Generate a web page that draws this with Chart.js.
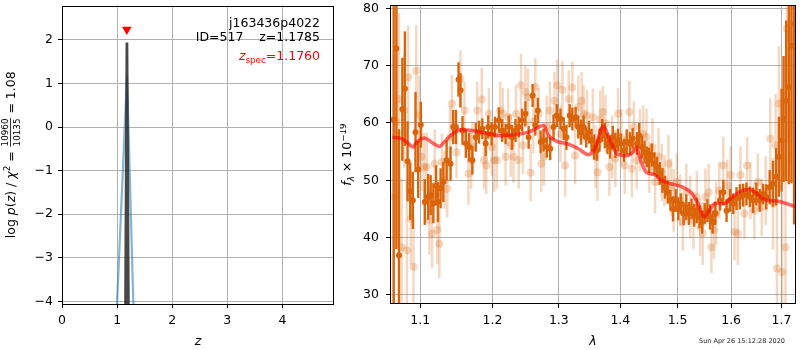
<!DOCTYPE html>
<html>
<head>
<meta charset="utf-8">
<script src="https://cdn.jsdelivr.net/npm/chart.js@4.4.0/dist/chart.umd.min.js"></script>
<style>
  html, body { margin: 0; padding: 0; background: #fff; }
  .panel { position: absolute; top: 0; height: 350px; }
</style>
</head>
<body>
<div class="panel" style="left:0;width:340px"><canvas id="pz"></canvas></div>
<div class="panel" style="left:340px;width:460px"><canvas id="spec"></canvas></div>
<script>
// ---- redshift probability panel ----
const zTicks = [0, 1, 2, 3, 4];
const logpTicks = [-4, -3, -2, -1, 0, 1, 2];
const zFit = [1.0, 1.1785, 1.36];          // fitted p(z), dark line
const logpFit = [-40, 1.94, -40];
const zPrior = [0.9, 1.18, 1.36];          // template p(z), blue line
const logpPrior = [-6.9, 1.18, -7.0];
const zSpec = 1.176;
const zSpecMark = 2.24;

// ---- spectrum panel ----
const lamTicks = [1.1, 1.2, 1.3, 1.4, 1.5, 1.6, 1.7];
const fluxTicks = [30, 40, 50, 60, 70, 80];

// binned grism fluxes
const darkLam = [1.0654,1.0689,1.0722,1.0766,1.0799,1.0834,1.0869,1.0903,1.0938,1.0974,1.1008,1.1061,1.1106,1.1140,1.1176,1.1213,1.1239,1.1274,1.1311,1.1356,1.1410,1.1447,1.1484,1.1520,1.1547,1.1575,1.1622,1.1668,1.1714,1.1762,1.1808,1.1855,1.1903,1.1940,1.1989,1.2037,1.2094,1.2142,1.2192,1.2240,1.2288,1.2338,1.2387,1.2436,1.2487,1.2536,1.2596,1.2637,1.2676,1.2718,1.2763,1.2814,1.2866,1.2917,1.2968,1.3026,1.3077,1.3120,1.3171,1.3214,1.3266,1.3309,1.3352,1.3394,1.3437,1.3481,1.3523,1.3567,1.3610,1.3653,1.3697,1.3741,1.3784,1.3829,1.3873,1.3917,1.3962,1.4007,1.4062,1.4108,1.4163,1.4209,1.4283,1.4322,1.4368,1.4415,1.4455,1.4495,1.4541,1.4589,1.4634,1.4681,1.4729,1.4775,1.4823,1.4871,1.4917,1.4965,1.5013,1.5060,1.5109,1.5158,1.5205,1.5254,1.5304,1.5351,1.5401,1.5451,1.5499,1.5549,1.5599,1.5648,1.5699,1.5787,1.5850,1.5912,1.5977,1.6040,1.6104,1.6169,1.6233,1.6298,1.6364,1.6429,1.6494,1.6561,1.6627,1.6693,1.6761,1.6827,1.6893,1.6948,1.7003,1.7044,1.7097,1.7152,1.7207,1.7261];
const darkFlux = [60.6,73.0,36.9,62.4,66.0,53.3,48.1,46.5,58.4,51.9,59.7,46.2,47.1,47.4,46.0,49.1,46.2,48.6,49.7,53.5,52.9,59.3,59.3,67.6,65.7,58.7,56.4,55.8,53.5,57.5,58.4,59.0,56.4,59.3,58.1,59.3,60.5,58.7,58.1,59.3,57.5,58.7,59.3,60.5,61.6,57.5,64.8,59.6,62.2,56.7,57.0,55.8,55.5,59.3,61.3,60.7,59.0,57.5,61.3,60.7,61.0,59.3,58.4,59.3,57.5,58.4,57.0,55.8,55.2,57.0,58.7,57.8,56.4,55.8,57.5,56.1,57.0,56.4,55.2,56.7,56.4,57.3,56.4,57.8,55.8,54.9,54.1,53.5,54.4,52.9,52.3,51.2,50.0,48.8,47.9,46.5,45.0,46.5,45.0,45.9,44.2,45.3,44.2,45.0,43.9,44.7,43.6,42.7,44.2,44.7,43.6,42.7,44.2,46.5,47.9,44.7,46.5,45.9,46.8,47.1,47.4,47.6,47.1,46.5,47.6,46.5,47.6,47.1,48.8,49.4,50.6,54.1,57.0,60.7,63.9,66.3,73.5,77.3];
const darkErr = [
  38, 35, 22, 9, 10, 7, 5, 5, 7, 5,
  4, 4, 4, 3.5, 3.5, 3.5, 3.5, 3.5, 3.5, 3.5,
  3, 3, 3, 3, 3, 2.5, 2.5, 2.5, 2.5, 2.5,
  2, 1.8, 2.2, 2, 2, 1.8, 2.2, 2, 1.8, 2,
  2.2, 2, 1.8, 2, 2.2, 2, 2, 1.8, 2.2, 2,
  2, 1.8, 2, 2.2, 2, 1.8, 2, 2.2, 2, 2,
  1.8, 2, 2.2, 2, 1.8, 2, 2, 2.2, 1.8, 2,
  2, 2.2, 1.8, 2, 2, 2.2, 2, 1.8, 2, 2.2,
  2, 1.8, 2, 2.2, 2, 2, 1.8, 2.2, 2, 2,
  1.8, 2, 2.2, 2, 2, 1.8, 2.2, 2, 2, 1.8,
  2, 2.2, 2, 1.8, 2, 2.2, 2, 2, 1.8, 2,
  2.2, 2, 2, 1.8, 2.2, 2, 2, 1.8, 2, 2.2,
  2, 2, 1.8, 2.2, 2, 2, 1.8, 2.2,
  3, 4, 5, 7, 9, 11, 14, 17, 24, 35
];

// unbinned fluxes (faint)
const lightLam = [1.0654,1.0689,1.0722,1.0757,1.0791,1.0825,1.0843,1.0877,1.0912,1.0948,1.0982,1.1017,1.1053,1.1087,1.1123,1.1159,1.1194,1.1230,1.1257,1.1293,1.1328,1.1365,1.1402,1.1429,1.1492,1.1547,1.1603,1.1658,1.1696,1.1714,1.1784,1.1847,1.1879,1.1912,1.1950,1.1989,1.2027,1.2065,1.2113,1.2152,1.2192,1.2230,1.2269,1.2309,1.2347,1.2387,1.2421,1.2451,1.2487,1.2526,1.2566,1.2607,1.2637,1.2687,1.2728,1.2768,1.2809,1.2860,1.2932,1.2974,1.3026,1.3057,1.3099,1.3156,1.3214,1.3257,1.3309,1.3362,1.3394,1.3449,1.3545,1.3588,1.3620,1.3664,1.3708,1.3751,1.3817,1.3862,1.3917,1.3962,1.4017,1.4074,1.4152,1.4197,1.4231,1.4278,1.4334,1.4391,1.4449,1.4495,1.4554,1.4599,1.4659,1.4717,1.4764,1.4835,1.4881,1.4929,1.4988,1.5049,1.5096,1.5158,1.5231,1.5291,1.5351,1.5414,1.5462,1.5512,1.5573,1.5624,1.5674,1.5712,1.5774,1.5850,1.5926,1.5989,1.6065,1.6131,1.6181,1.6259,1.6311,1.6376,1.6454,1.6522,1.6601,1.6681,1.6773,1.6827,1.6881,1.6908,1.6948,1.7015,1.7084,1.7111,1.7166];
const lightFlux = [47.1,60.2,64.2,38.3,62.2,37.8,68.0,43.3,34.9,69.1,61.3,54.1,52.3,52.3,43.0,40.7,52.9,41.3,38.9,53.2,50.0,48.5,57.5,63.4,54.9,67.7,62.2,51.2,53.5,55.8,62.2,64.1,53.5,52.6,61.6,55.8,53.5,53.5,62.2,61.6,54.1,61.0,56.1,54.1,61.6,53.5,66.6,56.1,65.4,64.5,51.3,60.2,66.3,61.6,52.9,54.1,59.3,62.2,63.9,66.6,58.1,65.8,52.6,64.2,66.2,54.3,62.8,63.9,61.6,61.3,61.0,54.1,51.4,60.7,61.9,59.9,52.3,55.8,53.8,61.6,57.5,52.6,61.9,52.0,59.3,53.5,57.0,58.1,57.5,52.3,55.8,49.7,54.1,51.4,50.0,52.9,48.8,46.5,49.7,46.5,42.7,47.9,45.3,43.0,47.1,41.8,40.7,47.1,47.9,38.3,41.3,44.2,48.2,52.6,49.1,50.9,41.0,40.7,50.9,44.2,52.6,48.2,44.7,49.7,45.3,48.2,57.3,45.9,56.1,34.6,63.4,34.0,38.3,76.5,75.0];
const lightErr = [
  25, 20, 15, 12, 10, 12, 9, 8, 8, 8,
  7, 6, 6, 6, 6, 6, 6, 6, 6, 5,
  5, 5, 5.5, 5, 4.5, 5, 5, 5.5, 5, 4.5,
  5, 5.5, 5, 5, 4.5, 5, 5.5, 5, 5, 4.5,
  5, 5, 5.5, 4.5, 5, 5, 5.5, 5, 4.5, 5,
  5, 5.5, 5, 4.5, 5, 5, 5.5, 5, 5, 4.5,
  5, 5, 5.5, 5, 4.5, 5, 5.5, 5, 5, 4.5,
  5, 5.5, 5, 5, 4.5, 5, 5, 5.5, 5, 4.5,
  5, 5, 5.5, 5, 4.5, 5, 5.5, 5, 5, 4.5,
  5, 5.5, 5, 5, 4.5, 5, 5, 5.5, 5, 4.5,
  5, 5, 5.5, 5, 4.5, 5, 5.5, 5, 5, 4.5,
  5, 5.5, 5, 5, 4.5, 5, 5, 5.5, 5, 4.5,
  5, 5, 5, 5, 5, 6, 7, 8, 9, 12,
  10, 14, 16, 20, 22
];

// best-fit template
const modelLam = [1.0638,1.0731,1.0838,1.0903,1.0955,1.1057,1.1146,1.1257,1.1324,1.1437,1.1553,1.1714,1.1903,1.2142,1.2338,1.2536,1.2676,1.2763,1.2840,1.2968,1.3151,1.3309,1.3469,1.3578,1.3713,1.3850,1.3962,1.4101,1.4214,1.4271,1.4346,1.4443,1.4589,1.4704,1.4881,1.5091,1.5242,1.5364,1.5488,1.5581,1.5704,1.5863,1.5989,1.6150,1.6311,1.6443,1.6573,1.6706,1.6908,1.7111,1.7282];
const modelFlux = [57.5,57.4,56.5,55.8,56.7,57.4,56.7,55.9,56.7,58.1,58.8,58.7,58.2,57.8,58.0,58.4,59.2,59.6,57.8,56.8,56.3,55.5,54.5,55.5,59.4,56.4,54.5,54.3,54.9,55.8,53.5,51.4,51.0,50.0,49.4,48.8,47.9,46.2,43.6,44.7,46.0,45.9,46.8,47.9,48.4,48.1,47.1,46.5,46.4,45.9,45.4];

const FONT = '"DejaVu Sans", sans-serif';
const ORANGE = 'rgb(217,100,10)';
const ORANGE_FAINT = 'rgba(217,100,10,0.25)';
const GRID = '#b0b0b0';

function font(size, italic) {
  return (italic ? 'italic ' : '') + size + 'px ' + FONT;
}
function pts(xs, ys) {
  return xs.map((x, i) => ({x: x, y: ys[i]}));
}
function minus(v) {
  return String(v).replace('-', '\u2212');
}

// measure / draw a run of text pieces (sub/superscripts, stacked fractions)
function partWidth(ctx, p) {
  if (p.num) {
    ctx.font = font(p.size);
    return Math.max(ctx.measureText(p.num).width, ctx.measureText(p.den).width) + 2;
  }
  ctx.font = font(p.size, p.italic);
  return ctx.measureText(p.text).width;
}
function drawParts(ctx, parts, x, y, align) {
  const total = parts.reduce((s, p) => s + partWidth(ctx, p), 0);
  let cx = align === 'right' ? x - total : align === 'center' ? x - total / 2 : x;
  ctx.textAlign = 'left';
  ctx.textBaseline = 'alphabetic';
  for (const p of parts) {
    const w = partWidth(ctx, p);
    ctx.fillStyle = p.color || '#000';
    if (p.num) {
      ctx.font = font(p.size);
      const nw = ctx.measureText(p.num).width, dw = ctx.measureText(p.den).width;
      ctx.fillText(p.num, cx + (w - nw) / 2, y - p.up);
      ctx.fillText(p.den, cx + (w - dw) / 2, y + p.down);
      ctx.fillRect(cx + 0.5, y - p.bar - 0.4, w - 1, 0.8);
    } else {
      ctx.font = font(p.size, p.italic);
      ctx.fillText(p.text, cx, y + (p.dy || 0));
    }
    cx += w;
  }
}

function frame(chart) {
  const a = chart.chartArea, ctx = chart.ctx;
  ctx.save();
  ctx.strokeStyle = '#000';
  ctx.lineWidth = 1;
  ctx.strokeRect(Math.round(a.left) + 0.5, Math.round(a.top) + 0.5,
    Math.round(a.right - a.left) - 1, Math.round(a.bottom - a.top) - 1);
  ctx.restore();
}

function axisOpts(ticks, min, max, extra) {
  return Object.assign({
    min: min, max: max,
    afterBuildTicks: (s) => { s.ticks = ticks.map(v => ({value: v})); },
    grid: {color: GRID, lineWidth: 1, tickColor: '#000', tickLength: 4},
    border: {display: false},
    ticks: {color: '#000', font: {family: FONT, size: 12.5}, padding: 5, maxRotation: 0,
      callback: (v) => minus(v)}
  }, extra || {});
}

const pzPlugin = {
  id: 'pzText',
  afterDraw(chart) {
    const ctx = chart.ctx, a = chart.chartArea;
    frame(chart);
    ctx.save();
    const rx = a.right - 14;
    drawParts(ctx, [{text: 'j163436p4022', size: 12.5}], rx, 27, 'right');
    drawParts(ctx, [{text: 'ID=517    z=1.1785', size: 12.5}], rx, 41, 'right');
    drawParts(ctx, [
      {text: 'z', size: 12.5, italic: true, color: '#ff0000'},
      {text: 'spec', size: 8.75, dy: 3, color: '#ff0000'},
      {text: '=1.1760', size: 12.5, color: '#ff0000'}
    ], rx, 60, 'right');
    drawParts(ctx, [{text: 'z', size: 12.5, italic: true}], (a.left + a.right) / 2, a.bottom + 41, 'center');
    // y label, rotated
    ctx.translate(15, (a.top + a.bottom) / 2);
    ctx.rotate(-Math.PI / 2);
    drawParts(ctx, [
      {text: 'log ', size: 12.5},
      {text: 'p', size: 12.5, italic: true},
      {text: '(', size: 12.5},
      {text: 'z', size: 12.5, italic: true},
      {text: ') / ', size: 12.5},
      {text: '\u03c7', size: 12.5, italic: true},
      {text: '2', size: 8.75, dy: -5},
      {text: ' = ', size: 12.5},
      {num: '10960', den: '10135', size: 8.75, up: 7, down: 5, bar: 4.5},
      {text: ' = 1.08', size: 12.5}
    ], 0, 0, 'center');
    ctx.restore();
  }
};

new Chart(document.getElementById('pz'), {
  type: 'scatter',
  data: {
    datasets: [
      {data: [{x: zSpec, y: zSpecMark}], pointStyle: 'triangle', rotation: 180, pointRadius: 5.5,
        backgroundColor: '#ff0000', borderColor: '#ff0000', borderWidth: 0, order: 1},
      {data: pts(zFit, logpFit), showLine: true, borderColor: 'rgba(40,40,40,0.85)', borderWidth: 2.8,
        pointRadius: 0, order: 2},
      {data: pts(zPrior, logpPrior), showLine: true, borderColor: 'rgba(31,119,180,0.55)', borderWidth: 2.2,
        pointRadius: 0, order: 3}
    ]
  },
  options: {
    responsive: true, maintainAspectRatio: false, animation: false,
    layout: {padding: {top: 5, left: 0, right: 6, bottom: 0}},
    plugins: {legend: {display: false}, tooltip: {enabled: false}},
    scales: {
      x: axisOpts(zTicks, 0, 4.936, {
        afterFit: (s) => { s.height = 46; s.paddingLeft = 0; s.paddingRight = 0; }
      }),
      y: axisOpts(logpTicks, -4.06, 2.79, {
        afterFit: (s) => { s.width = 62; s.paddingTop = 0; s.paddingBottom = 0; }
      })
    }
  },
  plugins: [pzPlugin]
});

// vertical error bars drawn right before their own points
const errorBars = {
  id: 'errorBars',
  beforeDatasetDraw(chart, args) {
    const ds = chart.data.datasets[args.index];
    if (!ds.errors) return;
    const ctx = chart.ctx, a = chart.chartArea;
    const xs = chart.scales.x, ys = chart.scales.y;
    ctx.save();
    ctx.beginPath();
    ctx.rect(a.left, a.top, a.right - a.left, a.bottom - a.top);
    ctx.clip();
    ctx.strokeStyle = ds.errColor;
    ctx.lineWidth = ds.errWidth;
    ds.data.forEach((p, i) => {
      const px = xs.getPixelForValue(p.x);
      ctx.beginPath();
      ctx.moveTo(px, ys.getPixelForValue(p.y - ds.errors[i]));
      ctx.lineTo(px, ys.getPixelForValue(p.y + ds.errors[i]));
      ctx.stroke();
    });
    ctx.restore();
  }
};

const specPlugin = {
  id: 'specText',
  afterDraw(chart) {
    const ctx = chart.ctx, a = chart.chartArea;
    frame(chart);
    ctx.save();
    drawParts(ctx, [{text: '\u03bb', size: 12.5, italic: true}], (a.left + a.right) / 2, a.bottom + 41, 'center');
    drawParts(ctx, [{text: 'Sun Apr 26 15:12:28 2020', size: 6.5, color: '#222'}], a.right - 11, 343, 'right');
    ctx.translate(10.5, (a.top + a.bottom) / 2);
    ctx.rotate(-Math.PI / 2);
    drawParts(ctx, [
      {text: 'f', size: 12.5, italic: true},
      {text: '\u03bb', size: 8.75, italic: true, dy: 3},
      {text: ' \u00d7 10', size: 12.5},
      {text: '\u221219', size: 8.75, dy: -5}
    ], 0, 0, 'center');
    ctx.restore();
  }
};

new Chart(document.getElementById('spec'), {
  type: 'scatter',
  data: {
    datasets: [
      {data: pts(modelLam, modelFlux), showLine: true, borderColor: 'rgba(255,0,0,0.6)', borderWidth: 3.5,
        cubicInterpolationMode: 'monotone', pointRadius: 0, order: 1},
      {data: pts(darkLam, darkFlux), errors: darkErr, errColor: ORANGE, errWidth: 2.4,
        pointRadius: 3, backgroundColor: ORANGE, borderWidth: 0, order: 2},
      {data: pts(lightLam, lightFlux), errors: lightErr, errColor: ORANGE_FAINT, errWidth: 2.5,
        pointRadius: 4, backgroundColor: ORANGE_FAINT, borderWidth: 0, order: 3}
    ]
  },
  options: {
    responsive: true, maintainAspectRatio: false, animation: false,
    layout: {padding: {top: 5, left: 0, right: 1, bottom: 0}},
    plugins: {legend: {display: false}, tooltip: {enabled: false}},
    scales: {
      x: axisOpts(lamTicks, 1.0607, 1.7301, {
        type: 'logarithmic',
        afterFit: (s) => { s.height = 46; s.paddingLeft = 0; s.paddingRight = 0; }
      }),
      y: axisOpts(fluxTicks, 28.4, 80.6, {
        afterFit: (s) => { s.width = 50; s.paddingTop = 0; s.paddingBottom = 0; }
      })
    }
  },
  plugins: [errorBars, specPlugin]
});
// x tick labels on the spectrum need one decimal
Chart.getChart('spec').options.scales.x.ticks.callback = (v) => Number(v).toFixed(1);
Chart.getChart('spec').options.scales.y.ticks.padding = 7;
Chart.getChart('spec').update();
</script>
</body>
</html>
